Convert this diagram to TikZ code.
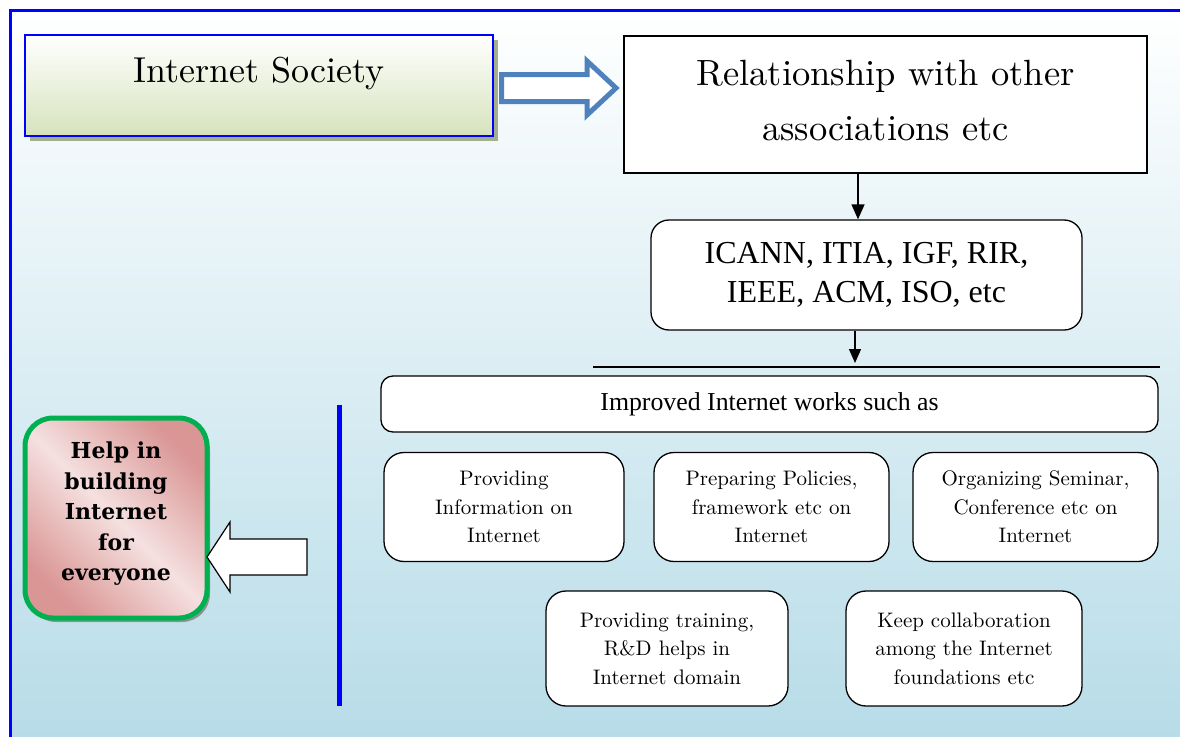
\documentclass[tikz,border=0pt]{standalone}
\usepackage{fontspec}
\newfontfamily\timesf{Liberation Serif}
\newfontfamily\boldf{DejaVu Serif}
\newfontfamily\pal{lmroman10-regular.otf}
\usetikzlibrary{shadows,arrows.meta}
\definecolor{bgblue}{RGB}{183,220,232}
\definecolor{socgreen}{RGB}{214,227,188}
\definecolor{socshadow}{RGB}{163,176,143}
\definecolor{arrowblue}{RGB}{79,129,189}
\definecolor{helpgreen}{RGB}{0,176,80}
\definecolor{pinkdark}{RGB}{217,150,148}
\definecolor{pinklight}{RGB}{245,224,224}
\definecolor{frameblue}{RGB}{0,0,255}
\tikzset{
  roundbox/.style={draw=black, line width=1.3pt, fill=white, rounded corners=18pt, align=center, inner sep=0pt},
  smalltext/.style={font=\pal\fontsize{21}{28.5}\selectfont},
  conn/.style={draw=black, line width=1.3pt, -{Triangle[width=13pt,length=15pt]}},
}
\begin{document}
\begin{tikzpicture}[x=1pt,y=-1pt]
\useasboundingbox (0,0) rectangle (1180,736);
% background
\shade[top color=white, bottom color=bgblue] (10,10) rectangle (1180,736);
\draw[frameblue, line width=3pt] (10,737) -- (10,10) -- (1181,10);

% Internet Society
\node[draw=frameblue, line width=2pt, top color=white, bottom color=socgreen,
  drop shadow={shadow xshift=5pt, shadow yshift=-5pt, fill=socshadow, opacity=1},
  minimum width=468pt, minimum height=101pt, inner sep=0pt] (soc) at (259,85.5) {};
\node[font=\pal\fontsize{36}{40}\selectfont, inner sep=0pt] (soctext) at (259,73) {Internet Society};

% Relationship
\node[draw=black, line width=1.5pt, fill=white, minimum width=523pt, minimum height=137pt,
  inner sep=0pt] (rel) at (885.5,104.5) {};
\node[align=center, inner sep=0pt, font=\pal\fontsize{36.5}{55}\selectfont] (reltext) at (885.5,100.5)
  {Relationship with other\\associations etc};

% blue block arrow
\draw[arrowblue, line width=5pt, fill=white, line join=miter]
  (501.5,74.5) -- (587,74.5) -- (587,61) -- (616,88) -- (587,115) -- (587,101.5) -- (501.5,101.5) -- cycle;

% ICANN
\node[roundbox, minimum width=431pt, minimum height=110pt, font=\timesf\fontsize{32}{39}\selectfont]
  (icann) at (866.5,275) {ICANN, ITIA, IGF, RIR,\\IEEE, ACM, ISO, etc};

\coordinate (ax1) at (858,0);
\draw[conn] (rel.south -| ax1) -- (icann.north -| ax1);
\coordinate (a2end) at (855,363);
\draw[conn, -{Triangle[width=12pt,length=14pt]}] (icann.south -| a2end) -- (a2end);

\coordinate (hl1) at (593,367);
\coordinate (hl2) at (1160,367);
\draw[black, line width=1.2pt] (hl1) -- (hl2);

% Improved
\node[roundbox, rounded corners=12pt, minimum width=777pt, minimum height=56pt,
  font=\timesf\fontsize{25.8}{30}\selectfont] (impr) at (769.5,404) {Improved Internet works such as};

% row boxes
\node[roundbox, smalltext, minimum width=240pt, minimum height=109pt, rounded corners=20pt] (b1) at (504,507)
  {Providing\\Information on\\Internet};
\node[roundbox, smalltext, minimum width=235pt, minimum height=109pt, rounded corners=20pt] (b2) at (771.5,507)
  {Preparing Policies,\\framework etc on\\Internet};
\node[roundbox, smalltext, minimum width=245pt, minimum height=109pt, rounded corners=20pt] (b3) at (1035.5,507)
  {Organizing Seminar,\\Conference etc on\\Internet};
\node[roundbox, smalltext, minimum width=242pt, minimum height=115pt, rounded corners=20pt] (b4) at (667,648.5)
  {Providing training,\\R\&D helps in\\Internet domain};
\node[roundbox, smalltext, minimum width=236pt, minimum height=115pt, rounded corners=20pt] (b5) at (964,648.5)
  {Keep collaboration\\among the Internet\\foundations etc};

% blue vertical line
\coordinate (vl1) at (339,405);
\coordinate (vl2) at (339,706);
\draw[frameblue, line width=5pt] (vl1) -- (vl2);

% Help box
\node[draw=helpgreen, line width=5pt, rounded corners=28pt,
  top color=pinkdark, bottom color=pinkdark, middle color=pinklight, shading angle=-45,
  drop shadow={shadow xshift=3pt, shadow yshift=-4pt, fill=gray, opacity=0.8},
  minimum width=182pt, minimum height=200pt, inner sep=0pt] (help) at (116,518) {};
\node[align=center, inner sep=0pt, font=\boldf\bfseries\fontsize{22}{30.5}\selectfont] (helptext) at (116,514)
  {Help in\\building\\Internet\\for\\everyone};

% white block arrow
\draw[black, line width=1.2pt, fill=white, line join=miter]
  (307,539) -- (230,539) -- (230,522) -- (207,557) -- (230,592) -- (230,575) -- (307,575) -- cycle;
\end{tikzpicture}
\end{document}
